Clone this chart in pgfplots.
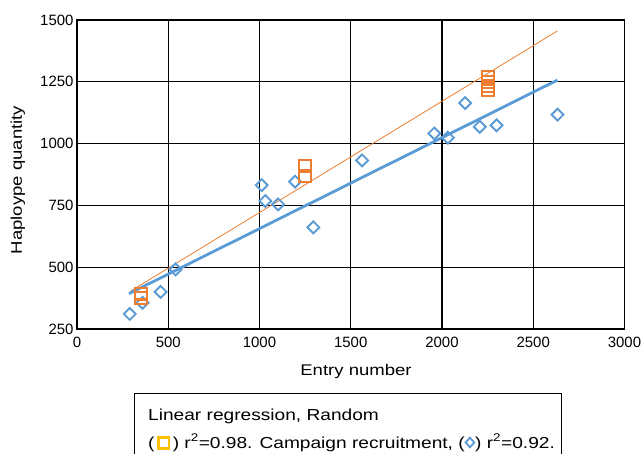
\documentclass[border=0pt]{standalone}
\usepackage{pgfplots}
\pgfplotsset{compat=1.18}
\usepackage{fontspec}
\setmainfont{Liberation Sans}
\newfontfamily\widefont{Liberation Sans}[FakeStretch=1.2]
\definecolor{cblue}{HTML}{5B9BD5}
\definecolor{corange}{HTML}{ED7D31}
\definecolor{cyellow}{HTML}{FFC000}
\begin{document}
\begin{tikzpicture}
\useasboundingbox (0bp,0bp) rectangle (644bp,454bp);
\begin{axis}[
  at={(77bp,125bp)}, anchor=south west,
  width=547.5bp, height=309bp, scale only axis,
  xmin=0, xmax=3000, ymin=250, ymax=1500,
  xtick={0,500,...,3000}, ytick={250,500,...,1500},
  grid=major, major grid style={black, line width=1.25bp},
  axis line style={black, line width=1.25bp},
  major tick length=0pt,
  tick label style={font=\fontsize{15}{15}\selectfont},
  /pgf/number format/assume math mode=true,
  /pgf/number format/set thousands separator={},
  xticklabel style={yshift=-5bp},
  clip=false,
]
\addplot[only marks, mark=square, mark size=4.2bp, mark options={rotate=45, line width=1.9bp, draw=cblue, fill=none}] coordinates {
(289,311) (359,356) (458,400) (540,491) (1012,832) (1032,768) (1102,754) (1195,846)
(1295,661) (1562,932) (1958,1041) (2032,1024) (2127,1164) (2207,1068) (2299,1074) (2633,1117)
};
\addplot[only marks, mark=square, mark size=5.9bp, mark options={line width=2.1bp, draw=corange, fill=none}] coordinates {
(349,374) (349,393) (1250,911) (1250,870) (2251,1271) (2251,1250) (2251,1233) (2251,1215)
};
\addplot[corange, line width=0.8bp, no marks] coordinates {(295,404) (2633,1456)};
\addplot[cblue, line width=2.8bp, no marks] coordinates {(285,393) (2633,1257)};
\end{axis}
\node[rotate=90, font=\widefont\fontsize{15.5}{15.5}\selectfont] at (18bp,274bp) {Haploype quantity};
\node[anchor=base, font=\widefont\fontsize{15.5}{15.5}\selectfont] at (356bp,78bp) {Entry number};
\draw[black, line width=1bp] (134bp,-20bp) -- (134bp,60bp) -- (561bp,60bp) -- (561bp,-20bp);
\node[anchor=base west, inner sep=0pt, font=\widefont\fontsize{16}{16}\selectfont] at (148bp,34bp) {Linear regression, Random};
\node[anchor=base west, inner sep=0pt, font=\widefont\fontsize{16}{16}\selectfont] at (148bp,6bp) {(\,\tikz[baseline=0pt]\draw[cyellow, line width=2.4bp] (0bp,-0.5bp) rectangle (10.5bp,10.5bp);\,) r\textsuperscript{2}=0.98. Campaign recruitment, (\tikz[baseline=0pt]\draw[cblue, line width=1.8bp] (0bp,5.5bp) -- (4.3bp,10.3bp) -- (8.6bp,5.5bp) -- (4.3bp,0.7bp) -- cycle;) r\textsuperscript{2}=0.92.};
\end{tikzpicture}
\end{document}
